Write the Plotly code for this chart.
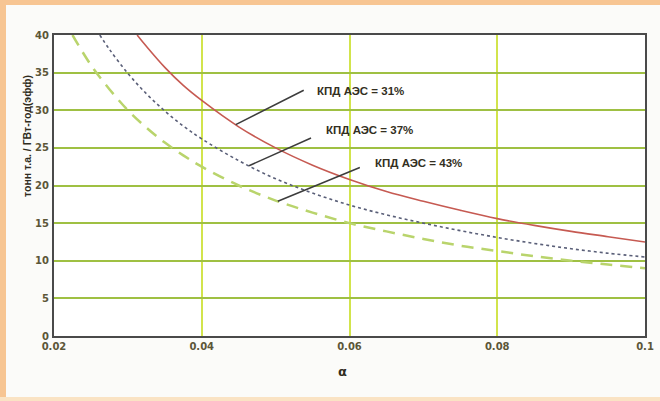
import numpy as np
import plotly.graph_objects as go

# Specific fuel consumption (tonnes per GW-year, effective) vs alpha
# for three NPP efficiencies
alpha_31 = [0.03125, 0.0325, 0.035, 0.0375, 0.04, 0.045, 0.05, 0.055, 0.06, 0.065,
            0.07, 0.075, 0.08, 0.085, 0.09, 0.095, 0.1]
tonnes_31 = [40.0, 38.5, 35.7, 33.3, 31.3, 27.8, 25.0, 22.7, 20.8, 19.2,
             17.9, 16.7, 15.6, 14.7, 13.9, 13.2, 12.5]

alpha_37 = [0.0262, 0.0275, 0.03, 0.0325, 0.035, 0.0375, 0.04, 0.045, 0.05, 0.055,
            0.06, 0.065, 0.07, 0.075, 0.08, 0.085, 0.09, 0.095, 0.1]
tonnes_37 = [40.0, 38.1, 34.9, 32.2, 29.9, 27.9, 26.2, 23.3, 20.9, 19.0,
             17.4, 16.1, 15.0, 14.0, 13.1, 12.3, 11.6, 11.0, 10.5]

alpha_43 = [0.0225, 0.025, 0.0275, 0.03, 0.0325, 0.035, 0.0375, 0.04, 0.045, 0.05,
            0.055, 0.06, 0.065, 0.07, 0.075, 0.08, 0.085, 0.09, 0.095, 0.1]
tonnes_43 = [40.0, 36.0, 32.8, 30.0, 27.7, 25.7, 24.0, 22.5, 20.0, 18.0,
             16.4, 15.0, 13.9, 12.9, 12.0, 11.3, 10.6, 10.0, 9.5, 9.0]

labels = ["КПД АЭС = 31%", "КПД АЭС = 37%", "КПД АЭС = 43%"]
label_alpha = [0.0446, 0.0464, 0.0503]   # where each leader line touches its curve

x_ticks = [0.02, 0.04, 0.06, 0.08, 0.1]
x_tick_text = ["0.02", "0.04", "0.06", "0.08", "0.1"]
y_ticks = [0, 5, 10, 15, 20, 25, 30, 35, 40]

W, H = 660, 401
ML, MR, MT, MB = 54, 15, 35, 65
PW, PH = W - ML - MR, H - MT - MB


def px_x(p):
    """figure pixel column -> paper x"""
    return (p - ML) / PW


def px_y(p):
    """figure pixel row -> paper y"""
    return (H - MB - p) / PH


fig = go.Figure()
fig.add_trace(go.Scatter(x=alpha_43, y=tonnes_43, mode="lines", line_shape="spline",
                         line=dict(color="#b9d46c", width=2.5, dash="12px,8px")))
fig.add_trace(go.Scatter(x=alpha_37, y=tonnes_37, mode="lines", line_shape="spline",
                         line=dict(color="#5a5f78", width=1.6, dash="dot")))
fig.add_trace(go.Scatter(x=alpha_31, y=tonnes_31, mode="lines", line_shape="spline",
                         line=dict(color="#c65a52", width=1.6)))

series = [(alpha_31, tonnes_31), (alpha_37, tonnes_37), (alpha_43, tonnes_43)]
leader = [(71, -36), (65, -29), (85, -35)]      # leader line tail offsets
label_off = [(79, -34), (75, -36), (95, -38)]   # label left-edge offsets
label_font = dict(family="Liberation Sans", size=11.5, color="#332f22", weight="bold")
for (xs, ys), lab, a, (ax, ay), (tx, ty) in zip(series, labels, label_alpha, leader, label_off):
    yv = float(np.interp(a, xs, ys))
    fig.add_annotation(x=a, y=yv, text=" ", showarrow=True, arrowhead=0,
                       arrowwidth=1.5, arrowcolor="#3c3c3c", ax=ax, ay=ay)
    fig.add_annotation(x=a, y=yv, text=lab, showarrow=True, arrowwidth=0.1,
                       arrowcolor="rgba(0,0,0,0)", ax=tx, ay=ty,
                       xanchor="left", yanchor="middle", font=label_font)

# axis titles
fig.add_annotation(xref="paper", yref="paper", x=px_x(27), y=px_y(136),
                   xanchor="center", yanchor="middle",
                   text="тонн т.а. / ГВт-год(эфф)", textangle=-90, showarrow=False,
                   font=dict(family="Liberation Sans", size=10.5, color="#2f2b20", weight="bold"))
fig.add_annotation(xref="paper", yref="paper", x=px_x(342), y=px_y(371),
                   xanchor="center", yanchor="middle",
                   text="α", showarrow=False,
                   font=dict(family="DejaVu Sans", size=13, color="#2f2b20", weight="bold"))

# page border: left edge as a thick line, top and bottom as strips
border = "#f7c593"
fig.add_shape(type="line", xref="paper", yref="paper",
              x0=px_x(3), x1=px_x(3), y0=px_y(H), y1=px_y(0),
              line=dict(color=border, width=6), layer="below")
for x0, y0, x1, y1, col in [(0, 0, W, 5, border), (0, 397, W, H, "#fae3c4")]:
    fig.add_shape(type="rect", xref="paper", yref="paper",
                  x0=px_x(x0), x1=px_x(x1), y0=px_y(y1), y1=px_y(y0),
                  line_width=0, fillcolor=col, layer="below")

fig.update_xaxes(range=[0.02, 0.1], tickvals=x_ticks, ticktext=x_tick_text,
                 showgrid=True, gridcolor="#d2e44c", gridwidth=2,
                 showline=True, mirror=True, linecolor="#4a4a4a", linewidth=2,
                 zeroline=False, ticks="", automargin=False,
                 tickfont=dict(family="DejaVu Sans", size=10, color="#5b5638", weight="bold"))
fig.update_yaxes(range=[0, 40], tickvals=y_ticks,
                 showgrid=True, gridcolor="#9fc043", gridwidth=1.8,
                 showline=True, mirror=True, linecolor="#4a4a4a", linewidth=2,
                 zeroline=False, ticks="", ticklabelstandoff=1, automargin=False,
                 tickfont=dict(family="DejaVu Sans", size=10, color="#5b5638", weight="bold"))

fig.update_layout(width=W, height=H, autosize=False, showlegend=False,
                  margin=dict(l=ML, r=MR, t=MT, b=MB, pad=0),
                  paper_bgcolor="#fbfbf9", plot_bgcolor="#ffffff")

fig.write_html("out.html")
